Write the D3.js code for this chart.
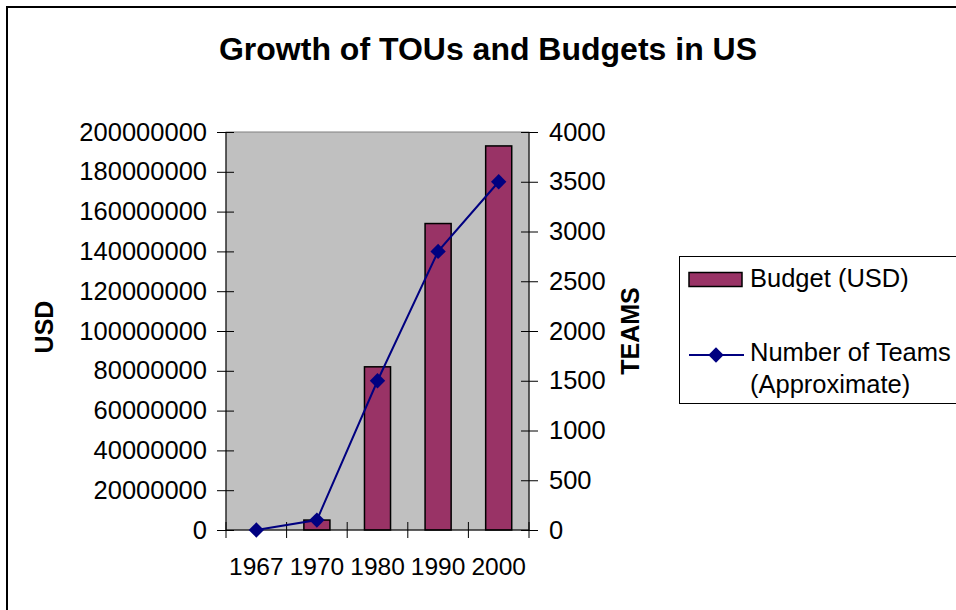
<!DOCTYPE html>
<html>
<head>
<meta charset="utf-8">
<script src="https://cdn.jsdelivr.net/npm/d3@7"></script>
<style>
html,body{margin:0;padding:0;background:#fff;}
svg{display:block;font-family:"Liberation Sans",Arial,sans-serif;}
</style>
</head>
<body>
<svg id="chart" width="956" height="610"></svg>
<script>
const categories = ["1967", "1970", "1980", "1990", "2000"];
const budget = [0, 5000000, 82000000, 154000000, 193000000];
const teams = [0, 100, 1500, 2800, 3500];
const budgetTicks = [0, 20000000, 40000000, 60000000, 80000000, 100000000, 120000000, 140000000, 160000000, 180000000, 200000000];
const teamTicks = [0, 500, 1000, 1500, 2000, 2500, 3000, 3500, 4000];
const title = "Growth of TOUs and Budgets in US";
const seriesNames = ["Budget (USD)", ["Number of Teams", "(Approximate)"]];

const svg = d3.select("#chart");
const L = 226, R = 529, T = 132, B = 530;
const FONT = "Liberation Sans, Arial, sans-serif";

// outer border
svg.append("rect").attr("x", 7).attr("y", 7).attr("width", 960).attr("height", 620)
  .attr("fill", "#fff").attr("stroke", "#000").attr("stroke-width", 2);

const x = d3.scaleBand().domain(categories).range([L, R]).padding(0);
const yL = d3.scaleLinear().domain([0, 200000000]).range([B, T]);
const yR = d3.scaleLinear().domain([0, 4000]).range([B, T]);

// plot area
svg.append("rect").attr("x", L).attr("y", T).attr("width", R - L).attr("height", B - T)
  .attr("fill", "#c0c0c0").attr("stroke", "#808080").attr("stroke-width", 1);

// bars
const bw = x.bandwidth() * 0.43;
svg.append("g").selectAll("rect").data(categories).join("rect")
  .attr("x", (d) => x(d) + x.bandwidth() / 2 - bw / 2)
  .attr("y", (d, i) => yL(budget[i]))
  .attr("width", bw)
  .attr("height", (d, i) => B - yL(budget[i]))
  .attr("fill", "#993366").attr("stroke", "#000").attr("stroke-width", 1.5);

// left axis
const gl = svg.append("g").attr("transform", `translate(${L},0)`)
  .call(d3.axisLeft(yL).tickValues(budgetTicks).tickFormat(d3.format("d")).tickSize(8).tickPadding(11));
gl.select(".domain").attr("d", `M0,${T}V${B}`).attr("stroke", "#000");
gl.selectAll(".tick line").attr("x1", 8).attr("x2", -9).attr("stroke", "#000");
gl.selectAll(".tick text").attr("font-size", 25.5).attr("font-family", FONT).attr("fill", "#000");

// right axis
const gr = svg.append("g").attr("transform", `translate(${R},0)`)
  .call(d3.axisRight(yR).tickValues(teamTicks).tickFormat(d3.format("d")).tickSize(8).tickPadding(12));
gr.select(".domain").attr("d", `M0,${T}V${B}`).attr("stroke", "#000");
gr.selectAll(".tick line").attr("x1", -8).attr("x2", 9).attr("stroke", "#000");
gr.selectAll(".tick text").attr("font-size", 25.5).attr("font-family", FONT).attr("fill", "#000");

// bottom axis
const gb = svg.append("g").attr("transform", `translate(0,${B})`)
  .call(d3.axisBottom(x).tickSize(0).tickPadding(28));
gb.select(".domain").attr("d", `M${L},0H${R}`).attr("stroke", "#000");
gb.selectAll(".tick text").attr("font-size", 24.5).attr("font-family", FONT).attr("fill", "#000");
const boundaries = categories.map((c) => x(c)).concat([R]);
gb.append("g").selectAll("line").data(boundaries).join("line")
  .attr("x1", (d) => d).attr("x2", (d) => d).attr("y1", -8).attr("y2", 8).attr("stroke", "#000");

// line series
const line = d3.line().x((d, i) => x(categories[i]) + x.bandwidth() / 2).y((d) => yR(d));
svg.append("path").datum(teams).attr("d", line).attr("fill", "none")
  .attr("stroke", "#000080").attr("stroke-width", 2);
const diamond = d3.symbol().type(d3.symbolDiamond2).size(150);
svg.append("g").selectAll("path").data(teams).join("path")
  .attr("transform", (d, i) => `translate(${x(categories[i]) + x.bandwidth() / 2},${yR(d)})`)
  .attr("d", diamond).attr("fill", "#000080");

// title
svg.append("text").attr("x", 488).attr("y", 60).attr("text-anchor", "middle")
  .attr("font-size", 32).attr("font-weight", "bold").text(title);

// axis titles
svg.append("text").attr("transform", "translate(53,327) rotate(-90)").attr("text-anchor", "middle")
  .attr("font-size", 25).attr("font-weight", "bold").text("USD");
svg.append("text").attr("transform", "translate(639,331) rotate(-90)").attr("text-anchor", "middle")
  .attr("font-size", 25).attr("font-weight", "bold").text("TEAMS");

// legend
const lg = svg.append("g");
lg.append("rect").attr("x", 679.5).attr("y", 256.5).attr("width", 300).attr("height", 147)
  .attr("fill", "#fff").attr("stroke", "#000").attr("stroke-width", 1);
lg.append("rect").attr("x", 689).attr("y", 272.5).attr("width", 53).attr("height", 14)
  .attr("fill", "#993366").attr("stroke", "#000").attr("stroke-width", 1.5);
lg.append("text").attr("x", 750).attr("y", 287).attr("font-size", 25.5).text(seriesNames[0]);
lg.append("line").attr("x1", 689).attr("x2", 744).attr("y1", 355).attr("y2", 355)
  .attr("stroke", "#000080").attr("stroke-width", 2);
lg.append("path").attr("transform", "translate(716,355)").attr("d", diamond).attr("fill", "#000080");
lg.append("text").attr("x", 750).attr("y", 361).attr("font-size", 25.5).text(seriesNames[1][0]);
lg.append("text").attr("x", 750).attr("y", 393).attr("font-size", 25.5).text(seriesNames[1][1]);
</script>
</body>
</html>
